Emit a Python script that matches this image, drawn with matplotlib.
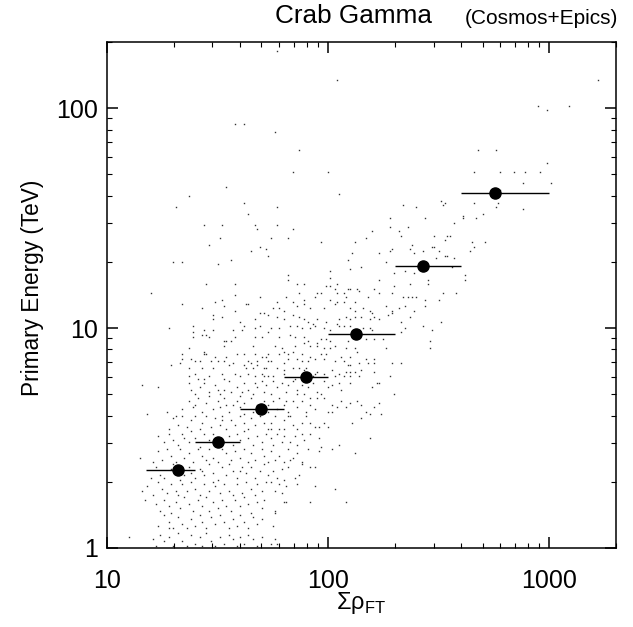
import numpy as np
import matplotlib
matplotlib.use("Agg")
import matplotlib.pyplot as plt
from matplotlib.ticker import FixedLocator, LogLocator, NullFormatter

plt.rcParams['font.family'] = ['Liberation Sans', 'DejaVu Sans']

# binned means: centre of sum(rho_FT), mean primary energy (TeV), bin edges
bin_rho = [21.0, 31.8, 49.9, 79.3, 134.0, 269.0, 568.0]
bin_energy = [2.26, 3.03, 4.27, 6.0, 9.4, 19.2, 41.1]
bin_lo = [15, 25, 40, 63, 100, 200, 400]
bin_hi = [25, 40, 63, 100, 200, 400, 1000]

# simulated events as (log10 sum rho_FT, log10 E/TeV)
dense_core = [
    (1.16, 0.74), (1.23, 0.73), (1.37, 0.75), (1.40, 0.70), (1.42, 0.73), (1.44, 0.75), (1.46, 0.71),
    (1.49, 0.74), (1.51, 0.70), (1.53, 0.72), (1.55, 0.76), (1.56, 0.71), (1.59, 0.73), (1.60, 0.69),
    (1.62, 0.75), (1.64, 0.72), (1.66, 0.70), (1.67, 0.75), (1.68, 0.73), (1.71, 0.71), (1.72, 0.74),
    (1.38, 0.72), (1.50, 0.72), (1.61, 0.71), (1.70, 0.76),
    (1.18, 0.61), (1.27, 0.62), (1.34, 0.63), (1.37, 0.67), (1.39, 0.64), (1.41, 0.68), (1.43, 0.62),
    (1.45, 0.66), (1.46, 0.69), (1.48, 0.63), (1.50, 0.67), (1.51, 0.64), (1.53, 0.68), (1.55, 0.62),
    (1.57, 0.65), (1.59, 0.67), (1.60, 0.64), (1.62, 0.66), (1.65, 0.68), (1.66, 0.62), (1.68, 0.65),
    (1.71, 0.67), (1.73, 0.62), (1.40, 0.65), (1.54, 0.65),
    (1.28, 0.54), (1.30, 0.59), (1.32, 0.56), (1.34, 0.60), (1.36, 0.55), (1.38, 0.58), (1.40, 0.60),
    (1.42, 0.54), (1.43, 0.57), (1.45, 0.60), (1.47, 0.55), (1.49, 0.59), (1.51, 0.56), (1.52, 0.60),
    (1.54, 0.54), (1.56, 0.58), (1.58, 0.56), (1.60, 0.60), (1.62, 0.57), (1.64, 0.54), (1.65, 0.59),
    (1.67, 0.56), (1.69, 0.60), (1.71, 0.57), (1.73, 0.54), (1.31, 0.60), (1.52, 0.58), (1.62, 0.61),
    (1.23, 0.51), (1.26, 0.48), (1.28, 0.52), (1.30, 0.49), (1.32, 0.47), (1.34, 0.52), (1.37, 0.48),
    (1.38, 0.53), (1.40, 0.50), (1.42, 0.46), (1.44, 0.52), (1.46, 0.49), (1.48, 0.52), (1.55, 0.51),
    (1.57, 0.47), (1.59, 0.52), (1.60, 0.49), (1.62, 0.53), (1.64, 0.50), (1.66, 0.47), (1.68, 0.51),
    (1.70, 0.48), (1.72, 0.52), (1.35, 0.50), (1.53, 0.48),
    (1.15, 0.41), (1.23, 0.44), (1.25, 0.40), (1.27, 0.45), (1.29, 0.42), (1.31, 0.39), (1.33, 0.45),
    (1.35, 0.41), (1.37, 0.43), (1.39, 0.39), (1.41, 0.45), (1.43, 0.42), (1.45, 0.40), (1.46, 0.45),
    (1.48, 0.41), (1.50, 0.39), (1.52, 0.45), (1.54, 0.43), (1.56, 0.40), (1.58, 0.44), (1.60, 0.41),
    (1.62, 0.45), (1.64, 0.39), (1.65, 0.43), (1.67, 0.40), (1.70, 0.45), (1.71, 0.42), (1.73, 0.39),
    (1.21, 0.39),
    (1.20, 0.32), (1.22, 0.37), (1.24, 0.33), (1.37, 0.37), (1.38, 0.34), (1.40, 0.32), (1.42, 0.36),
    (1.44, 0.33), (1.46, 0.38), (1.48, 0.34), (1.50, 0.31), (1.52, 0.37), (1.54, 0.33), (1.55, 0.38),
    (1.57, 0.35), (1.59, 0.32), (1.61, 0.37), (1.63, 0.34), (1.65, 0.37), (1.67, 0.32), (1.69, 0.35),
    (1.71, 0.38), (1.73, 0.33), (1.26, 0.32), (1.43, 0.35), (1.60, 0.35), (1.29, 0.36), (1.33, 0.31),
    (1.30, 0.38), (1.35, 0.33),
    (1.16, 0.26), (1.18, 0.28), (1.21, 0.24), (1.23, 0.30), (1.25, 0.27), (1.27, 0.25), (1.29, 0.29),
    (1.31, 0.26), (1.32, 0.24), (1.34, 0.29), (1.36, 0.26), (1.38, 0.30), (1.40, 0.27), (1.42, 0.24),
    (1.44, 0.29), (1.46, 0.26), (1.48, 0.30), (1.49, 0.28), (1.51, 0.25), (1.53, 0.29), (1.55, 0.26),
    (1.57, 0.24), (1.59, 0.29), (1.61, 0.25), (1.63, 0.30), (1.65, 0.27), (1.67, 0.24), (1.68, 0.29),
    (1.70, 0.26), (1.72, 0.30),
    (1.17, 0.22), (1.22, 0.20), (1.24, 0.17), (1.26, 0.22), (1.28, 0.19), (1.29, 0.16), (1.31, 0.21),
    (1.33, 0.18), (1.35, 0.23), (1.37, 0.20), (1.39, 0.17), (1.41, 0.22), (1.43, 0.19), (1.45, 0.23),
    (1.46, 0.17), (1.48, 0.21), (1.50, 0.18), (1.52, 0.22), (1.54, 0.19), (1.56, 0.17), (1.58, 0.22),
    (1.60, 0.19), (1.62, 0.23), (1.64, 0.20), (1.65, 0.16), (1.68, 0.21), (1.70, 0.18), (1.71, 0.22),
    (1.23, 0.10), (1.26, 0.15), (1.28, 0.12), (1.30, 0.09), (1.32, 0.14), (1.34, 0.11), (1.36, 0.09),
    (1.38, 0.13), (1.40, 0.10), (1.42, 0.15), (1.43, 0.12), (1.45, 0.09), (1.47, 0.14), (1.49, 0.11),
    (1.51, 0.15), (1.53, 0.12), (1.55, 0.09), (1.57, 0.13), (1.59, 0.10), (1.60, 0.15), (1.62, 0.12),
    (1.64, 0.09), (1.66, 0.14), (1.68, 0.11), (1.70, 0.13), (1.28, 0.09),
    (1.10, 0.05), (1.21, 0.04), (1.22, 0.01), (1.24, 0.06), (1.26, 0.03), (1.28, 0.05), (1.30, 0.01),
    (1.32, 0.07), (1.34, 0.03), (1.36, 0.01), (1.38, 0.06), (1.40, 0.02), (1.42, 0.05), (1.43, 0.01),
    (1.45, 0.07), (1.47, 0.03), (1.49, 0.01), (1.51, 0.05), (1.53, 0.02), (1.55, 0.06), (1.57, 0.04),
    (1.59, 0.01), (1.60, 0.05), (1.62, 0.02), (1.64, 0.06), (1.66, 0.04), (1.68, 0.01), (1.70, 0.05),
]

core_upper = [
    (1.64, 1.52), (1.44, 1.47), (1.52, 1.47), (1.67, 1.47), (1.68, 1.45), (1.51, 1.41), (1.46, 1.38),
    (1.69, 1.37), (1.65, 1.35), (1.72, 1.36), (1.30, 1.30), (1.34, 1.30), (1.50, 1.29), (1.56, 1.31),
    (1.45, 1.20), (1.58, 1.20), (1.20, 1.16), (1.58, 1.15), (1.69, 1.14), (1.49, 1.12), (1.52, 1.13),
    (1.53, 1.10), (1.63, 1.11), (1.64, 1.11), (1.34, 1.11), (1.43, 1.09), (1.58, 1.08), (1.48, 1.06),
    (1.52, 1.05), (1.48, 1.04), (1.60, 1.03), (1.67, 1.04), (1.71, 1.07), (1.69, 1.07), (1.62, 1.01),
    (1.28, 1.00), (1.39, 1.01), (1.44, 0.99), (1.45, 0.97), (1.48, 0.99), (1.43, 0.97), (1.57, 0.99),
    (1.61, 0.99), (1.67, 1.00), (1.69, 1.01), (1.39, 0.98), (1.39, 0.96), (1.46, 0.96), (1.58, 0.96),
    (1.67, 0.96), (1.70, 0.96), (1.73, 0.98), (1.53, 0.94), (1.54, 0.94), (1.56, 0.94), (1.53, 0.92),
    (1.37, 0.91), (1.44, 0.89), (1.44, 0.88), (1.45, 0.88), (1.49, 0.87), (1.54, 0.87), (1.59, 0.88),
    (1.62, 0.88), (1.66, 0.92), (1.67, 0.88), (1.70, 0.87), (1.72, 0.87), (1.34, 0.88), (1.34, 0.86),
    (1.38, 0.86), (1.40, 0.85), (1.42, 0.85), (1.47, 0.85), (1.50, 0.85), (1.53, 0.85), (1.57, 0.84),
    (1.64, 0.85), (1.65, 0.84), (1.68, 0.85), (1.73, 0.85), (1.29, 0.83), (1.33, 0.84), (1.37, 0.82),
    (1.40, 0.79), (1.43, 0.82), (1.48, 0.82), (1.55, 0.83), (1.62, 0.83), (1.63, 0.82), (1.66, 0.82),
    (1.68, 0.83), (1.71, 0.82), (1.72, 0.82), (1.37, 0.78), (1.41, 0.77), (1.44, 0.77), (1.46, 0.78),
    (1.52, 0.79), (1.53, 0.77), (1.58, 0.79), (1.60, 0.78), (1.64, 0.79), (1.67, 0.78), (1.70, 0.79),
    (1.71, 0.78),
]

core_right = [
    (1.75, 0.76), (1.77, 0.73), (1.79, 0.75), (1.81, 0.71), (1.82, 0.74), (1.84, 0.76), (1.86, 0.72),
    (1.88, 0.74), (1.89, 0.70), (1.91, 0.73), (1.93, 0.75), (1.95, 0.71), (1.98, 0.76), (2.00, 0.73),
    (2.02, 0.74), (2.05, 0.75), (2.06, 0.72), (2.10, 0.75), (2.20, 0.73), (2.22, 0.75), (2.23, 0.75),
    (2.30, 0.70), (1.74, 0.70), (1.86, 0.70), (1.97, 0.70),
    (1.73, 0.65), (1.75, 0.67), (1.77, 0.63), (1.78, 0.68), (1.80, 0.65), (1.82, 0.62), (1.84, 0.67),
    (1.86, 0.64), (1.88, 0.67), (1.90, 0.62), (1.92, 0.65), (1.94, 0.63), (1.95, 0.68), (1.98, 0.68),
    (2.00, 0.62), (2.02, 0.65), (2.04, 0.64), (2.06, 0.67), (2.08, 0.64), (2.10, 0.66), (2.13, 0.67),
    (2.15, 0.65), (2.17, 0.62), (2.19, 0.61), (2.21, 0.64), (2.23, 0.66), (2.24, 0.61), (1.92, 0.68),
    (1.81, 0.67),
    (1.74, 0.57), (1.76, 0.60), (1.78, 0.54), (1.80, 0.58), (1.82, 0.60), (1.84, 0.56), (1.86, 0.54),
    (1.88, 0.57), (1.90, 0.60), (1.92, 0.57), (1.94, 0.55), (1.96, 0.55), (1.98, 0.57), (2.00, 0.55),
    (2.02, 0.62), (2.11, 0.57), (2.15, 0.59), (1.83, 0.60), (1.74, 0.54),
    (1.74, 0.50), (1.75, 0.47), (1.77, 0.52), (1.79, 0.48), (1.80, 0.51), (1.83, 0.48), (1.85, 0.51),
    (1.86, 0.47), (1.89, 0.49), (1.91, 0.45), (1.92, 0.52), (1.96, 0.50), (1.97, 0.46), (2.02, 0.45),
    (2.05, 0.47), (2.19, 0.50), (1.80, 0.54), (1.88, 0.52),
    (1.74, 0.44), (1.76, 0.40), (1.78, 0.42), (1.80, 0.39), (1.82, 0.45), (1.84, 0.41), (1.86, 0.43),
    (1.88, 0.39), (1.96, 0.44), (2.12, 0.43), (1.83, 0.40),
    (1.75, 0.35), (1.77, 0.32), (1.79, 0.36), (1.82, 0.37), (1.85, 0.32), (1.87, 0.33), (1.92, 0.37),
    (1.94, 0.37), (1.88, 0.38),
    (1.74, 0.30), (1.76, 0.26), (1.78, 0.29), (1.80, 0.31), (1.81, 0.28), (1.86, 0.29), (1.94, 0.28),
    (2.03, 0.27), (1.79, 0.25),
    (1.76, 0.17), (1.76, 0.16), (1.80, 0.21), (1.81, 0.21), (1.92, 0.21), (2.08, 0.21),
    (1.75, 0.10), (1.74, 0.02), (1.76, 0.04), (1.77, 0.02),
]

mid_band = [
    (2.28, 1.50), (2.44, 1.50), (2.61, 1.51), (2.70, 1.52), (2.61, 1.50), (2.67, 1.50), (1.77, 1.47),
    (1.84, 1.45), (2.20, 1.44), (2.28, 1.46), (2.32, 1.44), (2.36, 1.46), (2.57, 1.48), (1.74, 1.41),
    (1.82, 1.41), (1.97, 1.39), (2.12, 1.39), (2.17, 1.41), (2.33, 1.42), (2.48, 1.42), (2.54, 1.42),
    (2.55, 1.42), (2.53, 1.40), (2.65, 1.39), (2.66, 1.37), (2.71, 1.39), (1.73, 1.33), (2.09, 1.31),
    (2.11, 1.34), (2.23, 1.34), (2.28, 1.35), (2.29, 1.36), (2.38, 1.38), (2.37, 1.36), (2.39, 1.34),
    (2.43, 1.35), (2.47, 1.37), (2.48, 1.37), (2.50, 1.35), (2.54, 1.33), (2.49, 1.32), (2.57, 1.32),
    (2.64, 1.35), (2.26, 1.30), (2.15, 1.28), (2.01, 1.26), (2.10, 1.27), (2.35, 1.26), (2.39, 1.25),
    (2.30, 1.25), (2.53, 1.33), (2.56, 1.28), (1.82, 1.24), (1.82, 1.22), (2.01, 1.23), (2.01, 1.19),
    (2.04, 1.20), (1.86, 1.20), (1.89, 1.20), (1.99, 1.19), (2.03, 1.18), (2.09, 1.18), (2.10, 1.18),
    (2.13, 1.18), (2.14, 1.17), (2.21, 1.18), (2.23, 1.22), (2.30, 1.19), (2.23, 1.16), (2.29, 1.16),
    (2.37, 1.20), (2.45, 1.22), (2.45, 1.20), (2.62, 1.24), (2.62, 1.22), (1.95, 1.16), (1.97, 1.16),
    (2.04, 1.16), (2.07, 1.16), (1.87, 1.16), (1.81, 1.14), (1.77, 1.12), (1.84, 1.12), (1.89, 1.13),
    (1.94, 1.14), (2.01, 1.13), (2.04, 1.12), (2.08, 1.14), (2.12, 1.12), (2.18, 1.14), (2.36, 1.14),
    (2.34, 1.14), (2.38, 1.14), (2.40, 1.14), (2.44, 1.13), (2.50, 1.13), (2.52, 1.16), (2.58, 1.16),
    (1.75, 1.09), (1.78, 1.09), (1.80, 1.08), (1.86, 1.10), (1.89, 1.11), (1.92, 1.09), (1.98, 1.09),
    (2.03, 1.11), (2.07, 1.12), (2.10, 1.09), (2.12, 1.08), (2.16, 1.09), (2.19, 1.08), (2.20, 1.07),
    (2.26, 1.10), (2.29, 1.08), (2.32, 1.09), (2.35, 1.10), (2.39, 1.08), (2.44, 1.10), (1.73, 1.06),
    (1.77, 1.05), (1.80, 1.04), (1.84, 1.06), (1.87, 1.05), (1.89, 1.04), (1.91, 1.03), (1.93, 1.02),
    (1.95, 1.04), (1.99, 1.03), (2.04, 1.02), (2.05, 1.04), (2.08, 1.05), (2.10, 1.04), (2.12, 1.05),
    (2.15, 1.05), (2.19, 1.04), (2.21, 1.05), (2.23, 1.04), (2.27, 1.06), (2.29, 1.07), (2.33, 1.03),
    (2.37, 1.05), (2.43, 1.01), (2.51, 1.03), (1.74, 1.00), (1.78, 1.00), (1.83, 1.01), (1.86, 1.01),
    (1.88, 1.00), (1.92, 1.00), (1.94, 1.01), (1.98, 1.00), (2.01, 0.99), (2.05, 1.01), (2.07, 1.01),
    (2.10, 1.01), (2.16, 1.00), (2.19, 1.00), (2.20, 0.99), (2.35, 1.00), (2.47, 0.99), (1.78, 0.96),
    (1.83, 0.97), (1.85, 0.96), (1.89, 0.96), (1.91, 0.94), (1.95, 0.93), (1.97, 0.95), (1.99, 0.95),
    (2.01, 0.94), (2.03, 0.92), (2.09, 0.94), (2.14, 0.96), (2.17, 0.95), (2.21, 0.95), (2.25, 0.95),
    (2.33, 0.98), (2.46, 0.94), (1.76, 0.92), (1.79, 0.91), (1.85, 0.92), (1.89, 0.93), (1.92, 0.92),
    (1.95, 0.92), (1.98, 0.91), (2.01, 0.91), (2.08, 0.91), (2.12, 0.91), (2.26, 0.91), (2.46, 0.91),
    (1.73, 0.88), (1.78, 0.88), (1.80, 0.89), (1.82, 0.88), (1.84, 0.89), (1.88, 0.88), (1.92, 0.87),
    (1.97, 0.88), (1.99, 0.88), (2.06, 0.87), (2.10, 0.87), (2.13, 0.89), (2.17, 0.86), (2.21, 0.86),
    (1.74, 0.85), (1.80, 0.84), (1.82, 0.86), (1.86, 0.86), (1.88, 0.85), (1.91, 0.85), (1.94, 0.86),
    (1.98, 0.86), (2.03, 0.85), (2.07, 0.85), (2.09, 0.83), (2.10, 0.83), (2.14, 0.84), (2.18, 0.84),
    (2.21, 0.84), (2.29, 0.84), (2.33, 0.84), (1.77, 0.82), (1.80, 0.81), (1.84, 0.82), (1.87, 0.82),
    (1.89, 0.81), (1.90, 0.82), (1.94, 0.79), (1.95, 0.80), (2.02, 0.81), (2.05, 0.79), (2.08, 0.80),
    (2.10, 0.80), (2.12, 0.80), (2.15, 0.81), (2.21, 0.80), (1.73, 0.78), (1.75, 0.78), (1.80, 0.79),
    (1.85, 0.77), (1.93, 0.78), (1.98, 0.79), (2.03, 0.78), (2.07, 0.78), (2.10, 0.78), (2.14, 0.78),
    (2.28, 0.78),
]

high_tail = [
    (1.77, 2.26), (2.04, 2.13), (1.76, 1.89), (1.87, 1.81), (1.84, 1.71), (2.00, 1.71), (2.05, 1.61),
    (1.77, 1.55), (2.34, 1.56), (2.40, 1.55), (1.58, 1.93), (1.62, 1.93), (1.54, 1.64), (1.37, 1.60),
    (1.62, 1.57), (1.31, 1.55), (3.22, 2.13), (2.95, 2.01), (2.99, 1.99), (3.09, 2.01), (2.68, 1.81),
    (2.76, 1.81), (2.99, 1.75), (2.66, 1.71), (2.78, 1.71), (2.84, 1.71), (2.89, 1.71), (2.96, 1.71),
    (2.88, 1.66), (3.01, 1.66), (2.78, 1.63), (2.51, 1.58), (2.52, 1.56), (2.53, 1.57), (2.66, 1.57),
    (2.77, 1.57), (2.76, 1.55), (2.88, 1.54),
]

fig = plt.figure(figsize=(6.33, 6.27), dpi=100)
ax = fig.add_axes([0.169, 0.126, 0.8036, 0.807])

# event cloud
for group in (dense_core, core_upper, core_right, mid_band, high_tail):
    lx, ly = np.array(group).T
    ax.plot(10**lx, 10**ly, ls='none', marker='s', ms=1.0, mew=0, color='0.2')

# binned means with bin widths
rho = np.array(bin_rho)
xerr = [rho - np.array(bin_lo), np.array(bin_hi) - rho]
ax.errorbar(bin_rho, bin_energy, xerr=xerr, fmt='o', ms=8, color='k',
            ecolor='k', elinewidth=1.0, capsize=0, zorder=3)

ax.set_xscale('log')
ax.set_yscale('log')
ax.set_xlim(10, 2000)
ax.set_ylim(1, 200)

ax.xaxis.set_major_locator(FixedLocator([10, 100, 1000]))
ax.yaxis.set_major_locator(FixedLocator([1, 10, 100]))
ax.set_xticklabels(['10', '100', '1000'])
ax.set_yticklabels(['1', '10', '100'])
ax.xaxis.set_minor_locator(LogLocator(base=10, subs=np.arange(2, 10), numticks=20))
ax.yaxis.set_minor_locator(LogLocator(base=10, subs=np.arange(2, 10), numticks=20))
ax.xaxis.set_minor_formatter(NullFormatter())
ax.yaxis.set_minor_formatter(NullFormatter())

ax.tick_params(which='both', direction='in', top=True, right=True, colors='k')
ax.tick_params(which='major', length=8, width=1.1, labelsize=18)
ax.tick_params(which='minor', length=3.6, width=0.8)
ax.tick_params(axis='x', which='major', pad=15)
ax.tick_params(axis='y', which='major', pad=6.5)
for s in ax.spines.values():
    s.set_linewidth(1.1)
    s.set_color('k')

fig.text(0.4344, 0.963, 'Crab Gamma', fontsize=18.8, ha='left', va='baseline')
fig.text(0.9763, 0.962, '(Cosmos+Epics)', fontsize=15, ha='right', va='baseline')
fig.text(0.052, 0.541, 'Primary Energy (TeV)', rotation=90, fontsize=16.3,
         ha='center', va='center')
fig.text(0.5703, 0.0287, 'Σρ$_\\mathregular{FT}$', fontsize=17, ha='center', va='baseline')

fig.savefig('out.png', dpi=100)
